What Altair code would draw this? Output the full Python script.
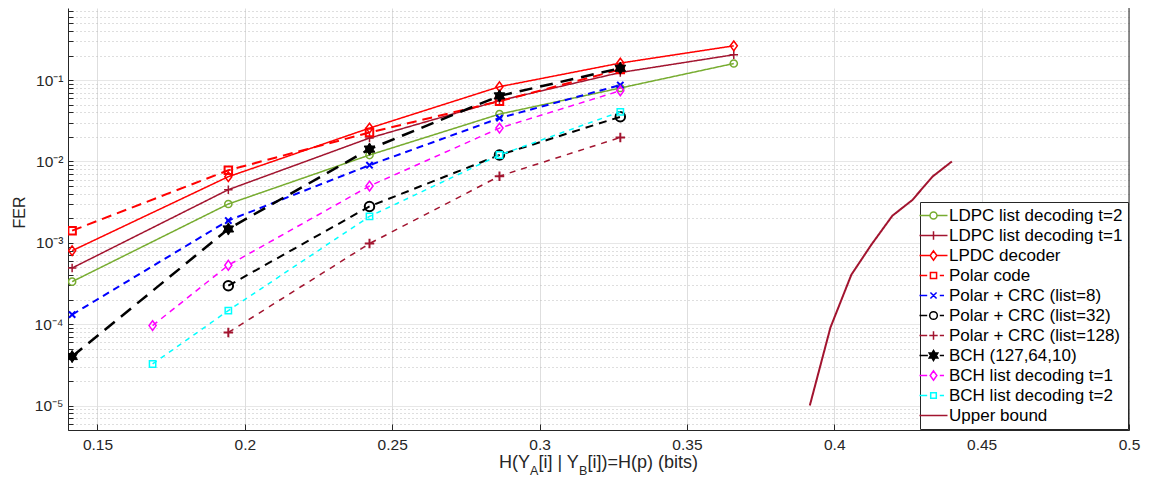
import json
import altair as alt
import pandas as pd

# ---------------- data ----------------
series_names = [
    "LDPC list decoding t=2",
    "LDPC list decoding t=1",
    "LPDC decoder",
    "Polar code",
    "Polar + CRC (list=8)",
    "Polar + CRC (list=32)",
    "Polar + CRC (list=128)",
    "BCH (127,64,10)",
    "BCH list decoding t=1",
    "BCH list decoding t=2",
    "Upper bound",
]

x_ldpc = [0.1414, 0.1944, 0.2423, 0.2864, 0.3274, 0.3659]
fer_ldpc_t2 = [3.33e-4, 3.0e-3, 1.20e-2, 3.82e-2, 8.0e-2, 0.160]
fer_ldpc_t1 = [4.9e-4, 4.5e-3, 1.94e-2, 5.6e-2, 0.124, 0.205]
fer_lpdc = [8.0e-4, 6.5e-3, 2.57e-2, 8.3e-2, 0.162, 0.264]

x_polar = [0.1414, 0.1944, 0.2423, 0.2864, 0.3274]
fer_polar = [1.41e-3, 7.8e-3, 2.27e-2, 5.5e-2, 0.135]
fer_polar8 = [1.31e-4, 1.88e-3, 9.0e-3, 3.41e-2, 8.7e-2]

x_polar_list = [0.1944, 0.2423, 0.2864, 0.3274]
fer_polar32 = [2.97e-4, 2.8e-3, 1.2e-2, 3.54e-2]
fer_polar128 = [7.9e-5, 9.8e-4, 6.6e-3, 1.97e-2]

x_bch = [0.1414, 0.1944, 0.2423, 0.2864, 0.3274]
fer_bch = [4.0e-5, 1.48e-3, 1.42e-2, 6.4e-2, 0.140]

x_bch_list = [0.1687, 0.1944, 0.2423, 0.2864, 0.3274]
fer_bch_t1 = [9.6e-5, 5.3e-4, 4.99e-3, 2.57e-2, 7.4e-2]
fer_bch_t2 = [3.24e-5, 1.47e-4, 2.11e-3, 1.2e-2, 4.08e-2]

x_bound = [0.3917, 0.3987, 0.4058, 0.4126, 0.4197, 0.4265, 0.4333, 0.4399]
fer_bound = [1.0e-5, 9.1e-5, 4.06e-4, 9.5e-4, 2.15e-3, 3.36e-3, 6.5e-3, 1.0e-2]

x_tick_values = [0.15, 0.2, 0.25, 0.3, 0.35, 0.4, 0.45, 0.5]
x_tick_labels = ["0.15", "0.2", "0.25", "0.3", "0.35", "0.4", "0.45", "0.5"]
y_tick_labels = ["10⁻⁵", "10⁻⁴", "10⁻³", "10⁻²", "10⁻¹"]

series_data = {
    "LDPC list decoding t=2": (x_ldpc, fer_ldpc_t2),
    "LDPC list decoding t=1": (x_ldpc, fer_ldpc_t1),
    "LPDC decoder": (x_ldpc, fer_lpdc),
    "Polar code": (x_polar, fer_polar),
    "Polar + CRC (list=8)": (x_polar, fer_polar8),
    "Polar + CRC (list=32)": (x_polar_list, fer_polar32),
    "Polar + CRC (list=128)": (x_polar_list, fer_polar128),
    "BCH (127,64,10)": (x_bch, fer_bch),
    "BCH list decoding t=1": (x_bch_list, fer_bch_t1),
    "BCH list decoding t=2": (x_bch_list, fer_bch_t2),
    "Upper bound": (x_bound, fer_bound),
}

# ---------------- styles ----------------
P_CIRCLE = "M1,0A1,1 0 1,1 -1,0A1,1 0 1,1 1,0Z"
P_PLUS = "M-1,0H1M0,-1V1"
P_DIAMOND = "M0,-1.3L0.95,0L0,1.3L-0.95,0Z"
P_SQUARE = "M-1,-1H1V1H-1Z"
P_X = "M-1,-1L1,1M-1,1L1,-1"
P_HEX = "M0,-1L0.866,0.5L-0.866,0.5Z M0,1L-0.866,-0.5L0.866,-0.5Z"

DARKRED = "#A2142F"
GREEN = "#77AC30"

# color, dash, line width, marker path, marker size, marker stroke, marker filled
styles = {
    "LDPC list decoding t=2": (GREEN, [1, 0], 1.5, P_CIRCLE, 52, 1.5, False),
    "LDPC list decoding t=1": (DARKRED, [1, 0], 1.5, P_PLUS, 72, 1.5, False),
    "LPDC decoder": ("#FF0000", [1, 0], 1.5, P_DIAMOND, 56, 1.5, False),
    "Polar code": ("#FF0000", [10, 6], 2.0, P_SQUARE, 56, 2.0, False),
    "Polar + CRC (list=8)": ("#0000FF", [7, 5], 2.0, P_X, 40, 2.0, False),
    "Polar + CRC (list=32)": ("#000000", [8, 6], 2.0, P_CIRCLE, 90, 2.0, False),
    "Polar + CRC (list=128)": (DARKRED, [6, 6], 1.5, P_PLUS, 90, 2.0, False),
    "BCH (127,64,10)": ("#000000", [13, 8], 2.5, P_HEX, 150, 1.0, True),
    "BCH list decoding t=1": ("#FF00FF", [6, 5], 1.5, P_DIAMOND, 56, 1.5, False),
    "BCH list decoding t=2": ("#00FFFF", [5, 5], 1.5, P_SQUARE, 40, 1.5, False),
    "Upper bound": (DARKRED, [1, 0], 2.0, None, 0, 0, False),
}

# legend glyphs: line segments + marker (unit = 7px, symbol 28px wide)
LEAD = "M-3.4,0h0.002"
DASHED = "M-2,0H-0.9M0.9,0H1.5"
legend_paths = [
    "M-2,0H-0.5M0.5,0H2M0.5,0A0.5,0.5 0 1,1 -0.5,0A0.5,0.5 0 1,1 0.5,0",
    "M-2,0H2M0,-0.6V0.6",
    "M-2,0H-0.48M0.48,0H2M0,-0.66L0.48,0L0,0.66L-0.48,0Z",
    DASHED + "M-0.44,-0.44H0.44V0.44H-0.44Z",
    DASHED + "M-0.44,-0.44L0.44,0.44M-0.44,0.44L0.44,-0.44",
    DASHED + "M0.55,0A0.55,0.55 0 1,1 -0.55,0A0.55,0.55 0 1,1 0.55,0",
    DASHED + "M-0.6,0H0.6M0,-0.6V0.6",
    "M-2,0H-0.8M0.9,0H1.5M0,-0.72L0.62,0.36L-0.62,0.36Z M0,0.72L-0.62,-0.36L0.62,-0.36Z",
    DASHED + "M0,-0.66L0.48,0L0,0.66L-0.48,0Z",
    DASHED + "M-0.4,-0.4H0.4V0.4H-0.4Z",
    "M-2,0H2",
]
legend_paths = [LEAD + p for p in legend_paths]
legend_colors = [styles[s][0] for s in series_names]
legend_fills = ["#000000" if styles[s][6] else "transparent" for s in series_names]

# ---------------- scales / axes ----------------
FONT = "Liberation Sans"
AX = "#262626"
Y_MIN, Y_MAX = 5e-6, 0.77
W, HGT = 1061, 422

y_values = []
for k in range(-6, 0):
    for m in range(1, 10):
        v = float(f"{m}e{k}")
        if Y_MIN <= v <= Y_MAX:
            y_values.append(v)

decade_test = "abs(log(datum.value)/LN10 - round(log(datum.value)/LN10)) < 0.001"
y_label_expr = (
    f"({decade_test}) ? {json.dumps(y_tick_labels, ensure_ascii=False)}"
    f"[round(log(datum.value)/LN10) + 5] : ''"
)
x_label_expr = (
    f"{json.dumps(x_tick_labels)}[indexof({json.dumps(x_tick_values)}, datum.value)]"
)

x_enc = alt.X(
    "x:Q",
    scale=alt.Scale(domain=[0.14, 0.5], nice=False, zero=False),
    axis=alt.Axis(
        values=x_tick_values,
        labelExpr=x_label_expr,
        title=None,
        grid=True,
        gridColor="#dedede",
        gridWidth=1,
        ticks=True,
        tickSize={"expr": "-6"},
        tickColor=AX,
        tickWidth=1,
        labelPadding=13,
        labelFont=FONT,
        labelFontSize=15.5,
        labelColor=AX,
        domainColor=AX,
        labelFlush=False,
        labelOverlap=False,
    ),
)
y_enc = alt.Y(
    "y:Q",
    scale=alt.Scale(type="log", domain=[Y_MIN, Y_MAX], nice=False),
    axis=alt.Axis(
        values=y_values,
        labelExpr=y_label_expr,
        title="FER",
        titleFont=FONT,
        titleFontSize=16,
        titleFontWeight="normal",
        titleColor=AX,
        titleX=-49,
        titleY=204,
        titleBaseline="middle",
        grid=True,
        gridColor={"condition": {"test": decade_test, "value": "#dedede"}, "value": "#bdbdbd"},
        gridDash={"condition": {"test": decade_test, "value": [1, 0]}, "value": [1, 3]},
        gridWidth=1,
        ticks=True,
        tickSize={"expr": "-5"},
        tickColor=AX,
        tickWidth=1,
        labelPadding=10,
        labelFont=FONT,
        labelFontSize=15.5,
        labelColor=AX,
        domainColor=AX,
        labelFlush=False,
        labelOverlap=False,
    ),
)

layers = []
for name in series_names:
    xs, ys = series_data[name]
    color, dash, lw, marker, msize, mlw, mfill = styles[name]
    df = pd.DataFrame({"x": xs, "y": ys, "series": name})
    base = alt.Chart(df)
    layers.append(
        base.mark_line(color=color, strokeDash=dash, strokeWidth=lw, clip=True).encode(
            x=x_enc, y=y_enc
        )
    )
    if marker is not None:
        if mfill:
            pm = base.mark_point(
                shape=marker, size=msize, filled=True, fill=color, stroke=color,
                strokeWidth=mlw, opacity=1, clip=True,
            )
        else:
            pm = base.mark_point(
                shape=marker, size=msize, filled=False, stroke=color,
                strokeWidth=mlw, opacity=1, clip=True,
            )
        layers.append(pm.encode(x=x_enc, y=y_enc))

# legend layer (no marks drawn; its scales feed the legend)
leg_df = pd.DataFrame({"series": series_names, "x": [0.2] * 11, "y": [1e-3] * 11})
legend_spec = alt.Legend(
    title=None,
    orient="bottom-right",
    offset=1,
    padding=5,
    fillColor="white",
    strokeColor=AX,
    cornerRadius=0,
    labelFont=FONT,
    labelFontSize=17,
    labelColor="#000000",
    labelLimit=400,
    labelOffset=7,
    labelExpr="datum.label + '\u2002'",
    symbolSize=196,
    symbolStrokeWidth=1.5,
    rowPadding=2.0,
)
legend_layer = (
    alt.Chart(leg_df)
    .transform_filter("false")
    .mark_point(filled=True, size=196, strokeWidth=1.5, opacity=1)
    .encode(
        x=x_enc,
        y=y_enc,
        stroke=alt.Stroke("series:N", scale=alt.Scale(domain=series_names, range=legend_colors), legend=legend_spec),
        fill=alt.Fill("series:N", scale=alt.Scale(domain=series_names, range=legend_fills), legend=legend_spec),
        shape=alt.Shape("series:N", scale=alt.Scale(domain=series_names, range=legend_paths), legend=legend_spec),
    )
)
layers.append(legend_layer)

# right-hand frame line of the axes box
one = pd.DataFrame({"a": [0]})
layers.append(
    alt.Chart(one)
    .mark_rule(color=AX, strokeWidth=1)
    .encode(x=alt.value(W), y=alt.value(0), y2=alt.value(HGT))
)

# x-axis title with subscripts
title_parts = [
    ("H(Y", 431, 460, 18),
    ("A", 462, 467, 12.5),
    ("[i] | Y", 470.5, 460, 18),
    ("B", 511, 467, 12.5),
    ("[i])=H(p) (bits)", 519.5, 460, 18),
]
for txt, px, py, fs in title_parts:
    layers.append(
        alt.Chart(one)
        .mark_text(align="left", baseline="alphabetic", font=FONT, fontSize=fs, color=AX)
        .encode(x=alt.value(px), y=alt.value(py), text=alt.value(txt))
    )

chart = (
    alt.layer(*layers)
    .properties(
        width=W,
        height=HGT,
        autosize=alt.AutoSizeParams(type="none"),
        padding={"left": 60, "top": 0, "right": 12, "bottom": 47},
    )
    .configure(font=FONT)
    .configure_view(stroke=None)
)

chart.save("out.html", embed_options={"renderer": "svg", "actions": False})
